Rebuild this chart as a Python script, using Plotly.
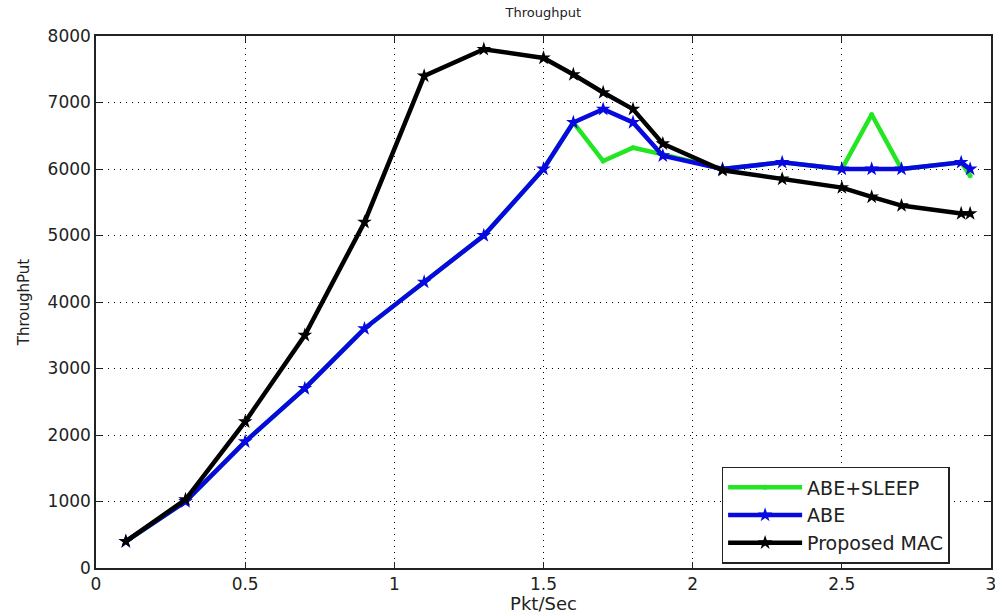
import plotly.graph_objects as go

x_vals = [0.1, 0.3, 0.5, 0.7, 0.9, 1.1, 1.3, 1.5, 1.6, 1.7, 1.8, 1.9, 2.1, 2.3, 2.5, 2.6, 2.7, 2.9, 2.93]
abe_sleep = [400, 1000, 1900, 2700, 3600, 4300, 5000, 6000, 6700, 6120, 6320, 6220, 6000, 6100, 6000, 6820, 6000, 6100, 5900]
abe = [400, 1000, 1900, 2700, 3600, 4300, 5000, 6000, 6700, 6900, 6700, 6200, 6000, 6100, 6000, 6000, 6000, 6100, 6000]
proposed = [400, 1030, 2200, 3500, 5200, 7400, 7800, 7670, 7420, 7150, 6900, 6380, 5980, 5850, 5720, 5580, 5450, 5330, 5330]

x_ticks = [0, 0.5, 1, 1.5, 2, 2.5, 3]
x_tick_text = ["0", "0.5", "1", "1.5", "2", "2.5", "3"]
y_ticks = [0, 1000, 2000, 3000, 4000, 5000, 6000, 7000, 8000]

FONT = "DejaVu Sans, Verdana, sans-serif"

fig = go.Figure()
fig.add_trace(go.Scatter(x=x_vals, y=abe_sleep, name="ABE+SLEEP", mode="lines+markers",
                         line=dict(color="#22e622", width=4.5),
                         marker=dict(symbol="circle", size=5, color="#22e622")))
fig.add_trace(go.Scatter(x=x_vals, y=abe, name="ABE", mode="lines+markers",
                         line=dict(color="#0808e0", width=4.5),
                         marker=dict(symbol="star", size=11, color="#0808e0")))
fig.add_trace(go.Scatter(x=x_vals, y=proposed, name="Proposed MAC", mode="lines+markers",
                         line=dict(color="black", width=4.5),
                         marker=dict(symbol="star", size=11, color="black")))

axis_common = dict(showline=True, linecolor="#222", linewidth=1.5, mirror="ticks",
                   ticks="inside", ticklen=6, tickcolor="#222", automargin=False,
                   ticklabeloverflow="allow",
                   showgrid=True, gridcolor="black", griddash="1px,5px", gridwidth=1,
                   zeroline=False, tickfont=dict(size=17, color="#222", family=FONT))

fig.update_layout(
    width=995, height=614,
    margin=dict(l=96, r=4, t=36, b=46),
    paper_bgcolor="white", plot_bgcolor="white",
    font=dict(family=FONT, color="#222"),
    title=dict(text="Throughput", x=0.546, xanchor="center", y=0.98, yanchor="middle",
               font=dict(size=13)),
    xaxis=dict(range=[0, 3], tickvals=x_ticks, ticktext=x_tick_text,
               title=dict(text="Pkt/Sec", font=dict(size=18), standoff=2), **axis_common),
    yaxis=dict(range=[0, 8000], tickvals=y_ticks,
               title=dict(text="ThroughPut", font=dict(size=15), standoff=14), **axis_common),
    legend=dict(x=0.699, y=0.19, xanchor="left", yanchor="top",
                bordercolor="#222", borderwidth=1.5, bgcolor="white",
                font=dict(size=19), tracegroupgap=0, itemwidth=74),
    showlegend=True,
)

fig.write_html("out.html", config={"displayModeBar": False},
               post_script="document.body.style.margin='0';document.body.style.overflow='hidden';")
